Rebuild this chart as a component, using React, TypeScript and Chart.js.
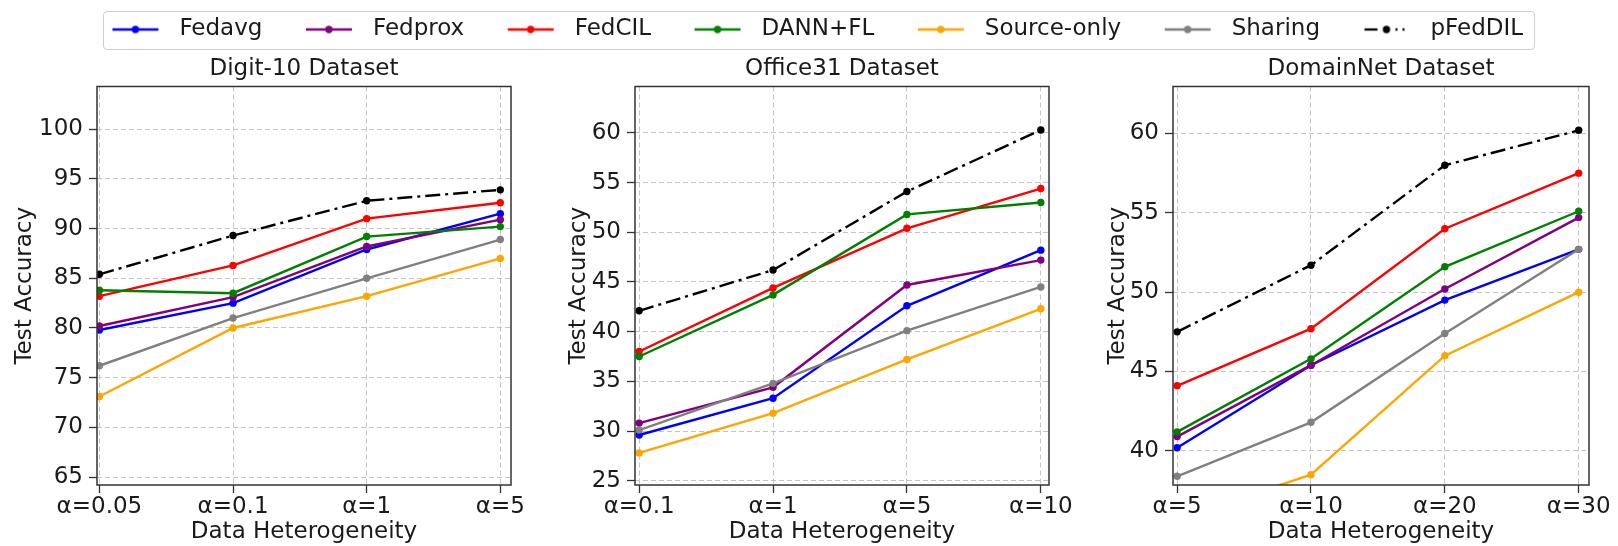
import React, { useEffect, useRef } from "react";
import { Chart, registerables } from "chart.js";

Chart.register(...registerables);

// ---------- data ----------
const seriesNames = ["Fedavg", "Fedprox", "FedCIL", "DANN+FL", "Source-only", "Sharing", "pFedDIL"];
const seriesColors = ["#0000ff", "#800080", "#ff0000", "#008000", "#ffa500", "#808080", "#000000"];

const digitLabels = ["α=0.05", "α=0.1", "α=1", "α=5"];
const digitFedavg = [79.8, 82.5, 87.9, 91.5];
const digitFedprox = [80.2, 83.1, 88.2, 90.9];
const digitFedCIL = [83.2, 86.3, 91.0, 92.6];
const digitDANN = [83.8, 83.5, 89.2, 90.2];
const digitSource = [73.1, 80.0, 83.2, 87.0];
const digitSharing = [76.2, 81.0, 85.0, 88.9];
const digitPFedDIL = [85.4, 89.3, 92.8, 93.9];

const officeLabels = ["α=0.1", "α=1", "α=5", "α=10"];
const officeFedavg = [29.6, 33.3, 42.6, 48.2];
const officeFedprox = [30.8, 34.4, 44.7, 47.2];
const officeFedCIL = [38.0, 44.4, 50.4, 54.4];
const officeDANN = [37.5, 43.7, 51.8, 53.0];
const officeSource = [27.8, 31.8, 37.2, 42.3];
const officeSharing = [30.1, 34.8, 40.1, 44.5];
const officePFedDIL = [42.1, 46.2, 54.1, 60.3];

const domainLabels = ["α=5", "α=10", "α=20", "α=30"];
const domainFedavg = [40.2, 45.4, 49.5, 52.7];
const domainFedprox = [40.9, 45.4, 50.2, 54.7];
const domainFedCIL = [44.1, 47.7, 54.0, 57.5];
const domainDANN = [41.2, 45.8, 51.6, 55.1];
const domainSource = [35.7, 38.5, 46.0, 50.0];
const domainSharing = [38.4, 41.8, 47.4, 52.7];
const domainPFedDIL = [47.5, 51.7, 58.0, 60.2];

const panelTitles = ["Digit-10 Dataset", "Office31 Dataset", "DomainNet Dataset"];
const xAxisTitle = "Data Heterogeneity";
const yAxisTitle = "Test Accuracy";

// ---------- style ----------
const FONT = "'DejaVu Sans', 'Noto Sans', sans-serif";
const FS = 23;
const TEXT = "#1a1a1a";
const DASH_DOT = [15, 5, 3, 5];

const panels = [
  {
    title: panelTitles[0], labels: digitLabels,
    values: [digitFedavg, digitFedprox, digitFedCIL, digitDANN, digitSource, digitSharing, digitPFedDIL],
    xMin: -0.018, xMax: 3.08, yMin: 64.2, yMax: 104.3,
    left: 0, width: 540, yWidth: 97, padRight: 29, yTitlePad: 11.2,
  },
  {
    title: panelTitles[1], labels: officeLabels,
    values: [officeFedavg, officeFedprox, officeFedCIL, officeDANN, officeSource, officeSharing, officePFedDIL],
    xMin: -0.031, xMax: 3.061, yMin: 24.57, yMax: 64.67,
    left: 540, width: 539, yWidth: 95, padRight: 30, yTitlePad: 25.7,
  },
  {
    title: panelTitles[2], labels: domainLabels,
    values: [domainFedavg, domainFedprox, domainFedCIL, domainDANN, domainSource, domainSharing, domainPFedDIL],
    xMin: -0.031, xMax: 3.077, yMin: 37.85, yMax: 62.96,
    left: 1079, width: 539, yWidth: 94, padRight: 29, yTitlePad: 25.7,
  },
];

const PANEL_TOP = 50;
const PANEL_H = 496;

const framePlugin = {
  id: "frame",
  afterDraw(chart: any) {
    const { ctx, chartArea: a } = chart;
    ctx.save();
    ctx.strokeStyle = "#333333";
    ctx.lineWidth = 1.5;
    ctx.strokeRect(a.left, a.top, a.right - a.left, a.bottom - a.top);
    ctx.restore();
  },
};

function makeHandle(color: string, dashed: boolean): HTMLCanvasElement {
  const c = document.createElement("canvas");
  c.width = 48;
  c.height = 16;
  const g = c.getContext("2d")!;
  g.strokeStyle = color;
  g.fillStyle = color;
  g.lineWidth = 2.3;
  g.lineCap = "butt";
  if (!dashed) {
    g.beginPath();
    g.moveTo(1, 8);
    g.lineTo(47, 8);
    g.stroke();
  } else {
    const segs = [[2, 15], [33, 35], [40, 42]];
    for (const [a, b] of segs) {
      g.beginPath();
      g.moveTo(a, 8);
      g.lineTo(b, 8);
      g.stroke();
    }
  }
  g.beginPath();
  g.arc(24, 8, 3.7, 0, Math.PI * 2);
  g.fill();
  return c;
}

export default function App() {
  const legendRef = useRef<HTMLCanvasElement | null>(null);
  const refs = [useRef<HTMLCanvasElement | null>(null), useRef<HTMLCanvasElement | null>(null), useRef<HTMLCanvasElement | null>(null)];

  useEffect(() => {
    const charts: Chart[] = [];

    panels.forEach((p, pi) => {
      const canvas = refs[pi].current;
      if (!canvas) return;
      const tickFont = { family: FONT, size: FS };
      const chart = new Chart(canvas, {
        type: "line",
        data: {
          datasets: seriesNames.map((name, i) => ({
            label: name,
            data: p.values[i].map((v, j) => ({ x: j, y: v })),
            borderColor: seriesColors[i],
            backgroundColor: seriesColors[i],
            pointBackgroundColor: seriesColors[i],
            pointBorderColor: seriesColors[i],
            pointRadius: 3.7,
            pointBorderWidth: 0,
            borderWidth: 2.4,
            borderDash: i === 6 ? DASH_DOT : [],
            tension: 0,
            order: seriesNames.length - 1 - i,
          })),
        },
        options: {
          animation: false,
          responsive: false,
          events: [],
          layout: { padding: { left: 0, right: p.padRight, top: 0, bottom: 0 } },
          plugins: {
            legend: { display: false },
            tooltip: { enabled: false },
            title: {
              display: true,
              text: p.title,
              fullSize: false,
              color: TEXT,
              font: { family: FONT, size: FS, weight: "normal" },
              padding: { top: 5.6, bottom: 3.3 },
            },
          },
          scales: {
            x: {
              type: "linear",
              min: p.xMin,
              max: p.xMax,
              afterFit: (s: any) => { s.height = 61; },
              ticks: {
                stepSize: 1,
                includeBounds: false,
                autoSkip: false,
                maxRotation: 0,
                padding: 0,
                color: TEXT,
                font: tickFont,
                callback: (v: any) => p.labels[Math.round(Number(v))] ?? "",
              },
              grid: { color: "#c4c4c4", lineWidth: 1, tickLength: 8, tickColor: "#333333", tickWidth: 1.3 },
              border: { display: false, dash: [5, 3] },
              title: {
                display: true,
                text: xAxisTitle,
                color: TEXT,
                font: { family: FONT, size: FS },
                padding: { top: 0, bottom: 0 },
              },
            },
            y: {
              type: "linear",
              min: p.yMin,
              max: p.yMax,
              afterFit: (s: any) => { s.width = p.yWidth; },
              ticks: { stepSize: 5, includeBounds: false, padding: 6, color: TEXT, font: tickFont },
              grid: { color: "#c4c4c4", lineWidth: 1, tickLength: 8, tickColor: "#333333", tickWidth: 1.3 },
              border: { display: false, dash: [5, 3] },
              title: {
                display: true,
                text: yAxisTitle,
                color: TEXT,
                font: { family: FONT, size: FS },
                padding: { top: p.yTitlePad, bottom: 0 },
              },
            },
          },
        } as any,
        plugins: [framePlugin],
      });
      charts.push(chart);
    });

    if (legendRef.current) {
      const handles = seriesNames.map((_, i) => makeHandle(seriesColors[i], i === 6));
      const lg = new Chart(legendRef.current, {
        type: "line",
        data: {
          datasets: seriesNames.map((name, i) => ({
            label: name,
            data: [],
            borderColor: seriesColors[i],
            backgroundColor: seriesColors[i],
          })),
        },
        options: {
          animation: false,
          responsive: false,
          events: [],
          scales: { x: { display: false }, y: { display: false } },
          plugins: {
            tooltip: { enabled: false },
            legend: {
              display: true,
              position: "top",
              labels: {
                usePointStyle: true,
                pointStyleWidth: 65,
                boxHeight: FS,
                padding: 34,
                color: TEXT,
                font: { family: FONT, size: FS },
                generateLabels: () =>
                  seriesNames.map((n, i) => ({
                    text: n,
                    pointStyle: handles[i],
                    fillStyle: seriesColors[i],
                    strokeStyle: seriesColors[i],
                    fontColor: TEXT,
                    lineWidth: 0,
                    hidden: false,
                    datasetIndex: i,
                  })),
              },
            },
          },
        } as any,
      });
      charts.push(lg);
    }

    return () => charts.forEach((c) => c.destroy());
  }, []);

  return (
    <div style={{ position: "fixed", left: 0, top: 0, width: 1618, height: 546, background: "#ffffff", overflow: "hidden" }}>
      {panels.map((p, i) => (
        <canvas
          key={i}
          ref={refs[i]}
          width={p.width}
          height={PANEL_H}
          style={{ position: "absolute", left: p.left, top: PANEL_TOP, width: p.width, height: PANEL_H }}
        />
      ))}
      <div
        style={{
          position: "absolute", left: 103, top: 11, width: 1432, height: 39,
          boxSizing: "border-box", border: "1px solid #cfcfcf", borderRadius: 4,
          pointerEvents: "none",
        }}
      />
      <canvas
        ref={legendRef}
        width={1620}
        height={120}
        style={{ position: "absolute", left: 3, top: -16, width: 1620, height: 120 }}
      />
    </div>
  );
}
